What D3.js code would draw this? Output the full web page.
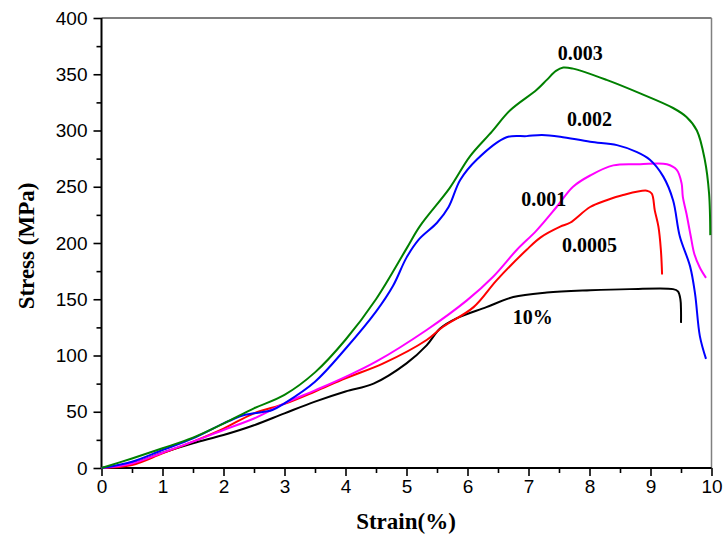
<!DOCTYPE html>
<html>
<head>
<meta charset="utf-8">
<script src="https://cdn.jsdelivr.net/npm/d3@7"></script>
<style>
  body { margin: 0; background: #fff; }
  .tick text { font-family: "Liberation Sans", Arial, sans-serif; font-size: 19px; fill: #000; }
  .title { font-family: "Liberation Serif", "Times New Roman", serif; font-weight: bold; fill: #000; }
</style>
</head>
<body>
<svg id="chart"></svg>
<script>
// strain (%) / stress (MPa) readings, one pair of arrays per curve
let x003 = [0, 0.5, 1, 1.5, 2, 2.5, 3, 3.5, 4, 4.5, 5, 5.22, 5.71, 6.04, 6.4, 6.7, 7.13, 7.3, 7.45, 7.57, 7.73, 8.28, 8.83, 9.37, 9.59, 9.76, 9.89, 9.96, 9.98];
let y003 = [0, 8.5, 17.5, 27, 39.5, 53, 65, 85, 114, 150, 195, 215, 249, 277, 299, 318, 336, 345, 353, 356, 355, 345, 333, 320, 312, 300, 274, 244, 207];

let x002 = [0, 0.5, 1, 1.5, 2, 2.1, 2.3, 2.5, 2.8, 3, 3.5, 4, 4.5, 4.78, 5.0, 5.2, 5.5, 5.69, 5.88, 6.15, 6.64, 6.97, 7.22, 7.52, 8.01, 8.45, 8.77, 8.99, 9.21, 9.37, 9.48, 9.65, 9.73, 9.81, 9.91];
let y002 = [0, 5.6, 16, 26.4, 39.7, 42, 46.5, 48.6, 51.5, 57.5, 76.7, 106, 139, 162, 187, 203, 218, 232, 256, 274, 294, 295, 296, 294.5, 290, 287, 281, 274, 259, 238, 206, 179, 155, 117, 97];

let x001 = [0, 0.5, 1, 1.5, 2, 2.5, 3, 3.5, 4, 4.5, 5.33, 5.99, 6.42, 6.81, 7.13, 7.46, 7.73, 8.01, 8.39, 8.83, 9.27, 9.43, 9.51, 9.53, 9.59, 9.66, 9.72, 9.81, 9.91];
let y001 = [0, 4, 13.6, 23.4, 33.8, 44, 57.5, 69, 81, 94.5, 122.7, 149, 170, 194, 211, 232, 250, 260, 269, 270, 270, 265, 253, 241, 226, 206, 190, 178, 169];

let x0005 = [0, 0.5, 1, 1.5, 2, 2.5, 3, 3.5, 4, 4.62, 5.33, 5.6, 6.1, 6.48, 6.97, 7.2, 7.52, 7.68, 8.01, 8.28, 8.55, 8.94, 9.02, 9.07, 9.13, 9.17, 9.19];
let y0005 = [0, 2.7, 13, 23.4, 35, 48.6, 57, 68, 79.7, 93, 113.8, 125.6, 143, 167, 194, 205, 214.5, 218, 232, 238, 242.7, 246.5, 244, 229, 214.5, 194, 172];

let x10 = [0, 0.5, 1, 1.5, 2, 2.5, 3, 3.5, 4, 4.46, 5.0, 5.33, 5.55, 5.82, 6.31, 6.75, 7.3, 8.01, 8.66, 9.37, 9.45, 9.49, 9.5, 9.5];
let y10 = [0, 4, 13.6, 22, 29.3, 38, 48.6, 59, 68, 75, 93, 109, 124, 133, 143, 152, 156, 158, 159, 159, 157, 150, 140, 129];

let curveNames = ['10%', '0.0005', '0.001', '0.002', '0.003'];
let curveColors = ['#000000', '#ff0000', '#ff00ff', '#0000ff', '#008000'];
let curveX = [x10, x0005, x001, x002, x003];
let curveY = [y10, y0005, y001, y002, y003];

// label anchor in data units (strain, stress)
let labelX = [7.07, 8.0, 7.25, 8.0, 7.85];
let labelY = [128, 192, 233, 304, 363];

let xTicks = [0, 1, 2, 3, 4, 5, 6, 7, 8, 9, 10];
let yTicks = [0, 50, 100, 150, 200, 250, 300, 350, 400];

let config = { svg: {}, margin: {}, plot: {} };
config.svg.width = 723;
config.svg.height = 536;
config.margin.left = 101.5;
config.margin.top = 18;
config.plot.width = 610;
config.plot.height = 450;

let svg = d3.select('#chart')
  .attr('width', config.svg.width)
  .attr('height', config.svg.height);

let xScale = d3.scaleLinear().domain([0, 10]).range([0, config.plot.width]);
let yScale = d3.scaleLinear().domain([0, 400]).range([config.plot.height, 0]);

let plot = svg.append('g').attr('transform', translate(config.margin.left, config.margin.top));

// frame: thin top line, gray right edge
plot.append('line')
  .attr('x1', 0).attr('x2', config.plot.width)
  .attr('y1', 0).attr('y2', 0)
  .attr('stroke', '#000').attr('stroke-width', 1.2);
plot.append('line')
  .attr('x1', config.plot.width).attr('x2', config.plot.width)
  .attr('y1', 0).attr('y2', config.plot.height)
  .attr('stroke', '#808080').attr('stroke-width', 1.5);

// minor ticks
let xMinor = d3.axisBottom(xScale).tickValues(d3.range(0.5, 10, 1)).tickSize(5).tickFormat('');
let yMinor = d3.axisLeft(yScale).tickValues(d3.range(25, 400, 50)).tickSize(5).tickFormat('');

let xAxis = d3.axisBottom(xScale).tickValues(xTicks).tickSize(8).tickPadding(4).tickFormat(d3.format('d'));
let yAxis = d3.axisLeft(yScale).tickValues(yTicks).tickSize(8).tickPadding(6).tickFormat(d3.format('d'));

plot.append('g').attr('transform', translate(0, config.plot.height)).call(xMinor);
plot.append('g').call(yMinor);
let xGroup = plot.append('g').attr('transform', translate(0, config.plot.height)).call(xAxis);
let yGroup = plot.append('g').call(yAxis);

plot.selectAll('.domain').remove();
plot.selectAll('.tick line').attr('stroke', '#000').attr('stroke-width', 1.6);

// main axis lines
plot.append('line')
  .attr('x1', 0).attr('x2', config.plot.width)
  .attr('y1', config.plot.height).attr('y2', config.plot.height)
  .attr('stroke', '#000').attr('stroke-width', 2);
plot.append('line')
  .attr('x1', 0).attr('x2', 0)
  .attr('y1', 0).attr('y2', config.plot.height)
  .attr('stroke', '#000').attr('stroke-width', 2);

let line = d3.line()
  .x(d => xScale(d[0]))
  .y(d => yScale(d[1]))
  .curve(d3.curveCatmullRom.alpha(0.5));

curveNames.forEach(function(name, i) {
  let pts = curveX[i].map((x, j) => [x, curveY[i][j]]);
  plot.append('path')
    .datum(pts)
    .attr('fill', 'none')
    .attr('stroke', curveColors[i])
    .attr('stroke-width', 2)
    .attr('d', line);

  plot.append('text')
    .attr('class', 'title')
    .attr('x', xScale(labelX[i]))
    .attr('y', yScale(labelY[i]))
    .attr('text-anchor', 'middle')
    .style('font-size', '20px')
    .text(name);
});

// axis titles
svg.append('text')
  .attr('class', 'title')
  .attr('x', 406)
  .attr('y', 529)
  .attr('text-anchor', 'middle')
  .style('font-size', '23px')
  .text('Strain(%)');

svg.append('text')
  .attr('class', 'title')
  .attr('transform', 'translate(34,246) rotate(-90)')
  .attr('text-anchor', 'middle')
  .style('font-size', '23px')
  .text('Stress (MPa)');

function translate(x, y) {
  return 'translate(' + x + ',' + y + ')';
}
</script>
</body>
</html>
